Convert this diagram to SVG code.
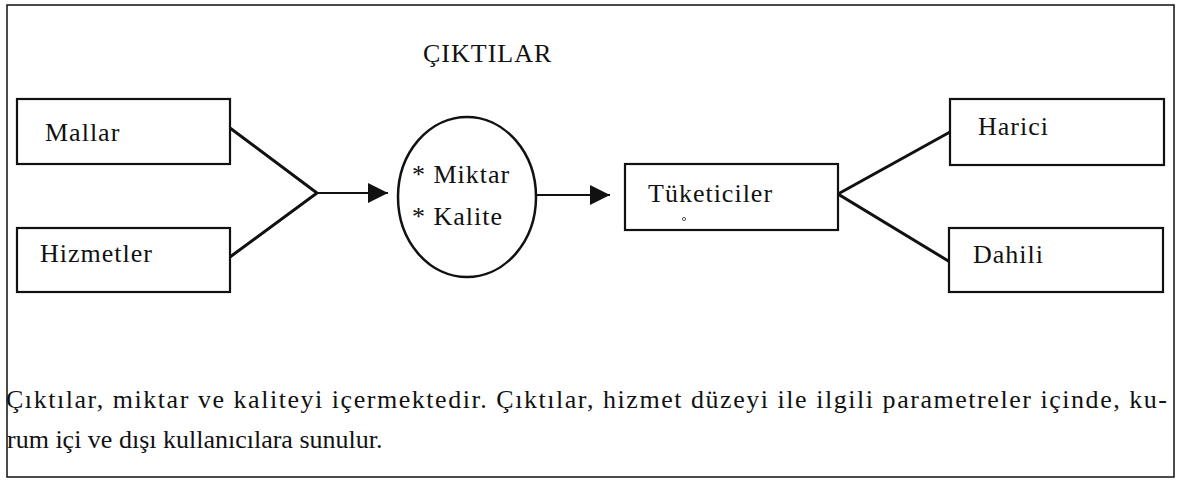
<svg xmlns="http://www.w3.org/2000/svg" width="1178" height="482" viewBox="0 0 1178 482">
  <style>
    .frame { fill: #fff; stroke: #111; stroke-width: 1.5; }
    .box { fill: #fff; stroke: #111; stroke-width: 2.2; }
    .oval { fill: #fff; stroke: #111; stroke-width: 2.5; }
    .link { fill: none; stroke: #111; stroke-width: 3; stroke-linecap: round; }
    .flow { fill: none; stroke: #111; stroke-width: 2; }
    .lbl { font-family: "Liberation Serif", "DejaVu Serif", serif; font-size: 26px; fill: #111; letter-spacing: 1px; }
    .body { font-family: "Liberation Serif", "DejaVu Serif", serif; font-size: 26px; fill: #111; }
  </style>
  <defs>
    <marker id="head" markerUnits="userSpaceOnUse" markerWidth="22" markerHeight="22" viewBox="0 0 22 22" refX="21" refY="11" orient="auto">
      <path d="M1,1 L21,11 L1,21 Z" fill="#111"/>
    </marker>
  </defs>

  <!-- outer frame -->
  <rect class="frame" x="7" y="5" width="1167" height="472"/>

  <!-- heading -->
  <text class="lbl" x="423" y="62">ÇIKTILAR</text>

  <!-- connectors -->
  <g id="connectors">
    <polyline class="link" points="230,128 317,193 230,257"/>
    <line class="flow" x1="317" y1="193" x2="388" y2="193" marker-end="url(#head)"/>
    <line class="flow" x1="536" y1="195" x2="610" y2="195" marker-end="url(#head)"/>
    <polyline class="link" points="950,132 838,194 950,262"/>
  </g>

  <g id="mallar">
    <rect class="box" x="17" y="99" width="213" height="65"/>
    <text class="lbl" x="45" y="141">Mallar</text>
  </g>

  <g id="hizmetler">
    <rect class="box" x="17" y="228" width="213" height="64"/>
    <text class="lbl" x="40" y="262">Hizmetler</text>
  </g>

  <g id="ciktilar">
    <ellipse class="oval" cx="467" cy="197" rx="69" ry="80"/>
    <text class="lbl" x="412" y="183">* Miktar</text>
    <text class="lbl" x="412" y="225">* Kalite</text>
  </g>

  <g id="tuketiciler">
    <rect class="box" x="625" y="164" width="213" height="66"/>
    <text class="lbl" x="648" y="202">Tüketiciler</text>
    <circle cx="684" cy="219" r="1.6" fill="#fff" stroke="#555" stroke-width="1"/>
  </g>

  <g id="harici">
    <rect class="box" x="950" y="99" width="214" height="66"/>
    <text class="lbl" x="978" y="135">Harici</text>
  </g>

  <g id="dahili">
    <rect class="box" x="949" y="228" width="214" height="64"/>
    <text class="lbl" x="973" y="263">Dahili</text>
  </g>

  <!-- caption paragraph -->
  <text class="body" x="6" y="408" textLength="1161" lengthAdjust="spacing">Çıktılar, miktar ve kaliteyi içermektedir. Çıktılar, hizmet düzeyi ile ilgili parametreler içinde, ku-</text>
  <text class="body" x="7" y="448">rum içi ve dışı kullanıcılara sunulur.</text>
</svg>
